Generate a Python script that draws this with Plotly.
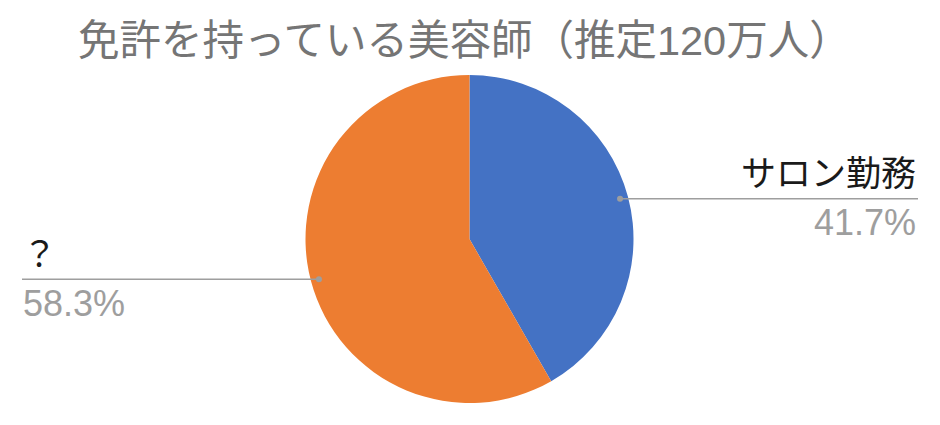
import math
import plotly.graph_objects as go

# chart data
labels = ["サロン勤務", "？"]
values = [41.7, 58.3]
pct_text = ["41.7%", "58.3%"]
colors = ["#4472C4", "#ED7D31"]
title_text = "免許を持っている美容師（推定120万人）"

W, H = 940, 425
OFF = 8  # page body margin


def px(x):
    return (x - OFF) / W


def py(y):
    return 1 - (y - OFF) / H


# pie geometry in screen pixels
cx, cy, R = 469.5, 239, 164

fig = go.Figure(go.Pie(
    labels=labels,
    values=values,
    sort=False,
    direction="clockwise",
    rotation=0,
    marker=dict(colors=colors, line=dict(width=0)),
    textinfo="none",
    hoverinfo="label+percent",
    showlegend=False,
    domain=dict(x=[px(cx - R), px(cx + R)], y=[py(cy + R), py(cy - R)]),
))

shapes = []
annotations = []
total = sum(values)
start = 0
for i, v in enumerate(values):
    mid = (start + v / 2) / total * 2 * math.pi
    start += v
    dx = math.sin(mid) * R * 0.95
    dy = -math.cos(mid) * R * 0.95
    x0, y0 = cx + dx, cy + dy
    right = dx > 0
    x1 = 918 if right else 22
    # dot on the slice
    shapes.append(dict(type="circle", xref="paper", yref="paper",
                       x0=px(x0 - 3), x1=px(x0 + 3), y0=py(y0 + 3), y1=py(y0 - 3),
                       fillcolor="#9e9e9e", line=dict(width=0)))
    # leader line
    shapes.append(dict(type="line", xref="paper", yref="paper",
                       x0=px(x0), x1=px(x1), y0=py(y0), y1=py(y0),
                       line=dict(color="#9e9e9e", width=1.5)))
    anchor = "right" if right else "left"
    annotations.append(dict(text=labels[i], x=px(x1 if right else 20), y=py(y0 - 25),
                            xref="paper", yref="paper", xanchor=anchor, yanchor="middle",
                            showarrow=False,
                            font=dict(size=35, color="#1a1a1a",
                                      family="Liberation Sans, Noto Sans CJK JP")))
    annotations.append(dict(text=pct_text[i], x=px(x1 if right else x1 - 1), y=py(y0 + 24),
                            xref="paper", yref="paper", xanchor=anchor, yanchor="middle",
                            showarrow=False,
                            font=dict(size=36, color="#9e9e9e",
                                      family="Liberation Sans, Noto Sans CJK JP")))

annotations.append(dict(text=title_text, x=px(464), y=py(41), xref="paper", yref="paper",
                        xanchor="center", yanchor="middle", showarrow=False,
                        font=dict(size=41.5, color="#757575",
                                  family="Liberation Sans, Noto Sans CJK JP")))

fig.update_layout(
    width=W,
    height=H,
    margin=dict(l=0, r=0, t=0, b=0),
    paper_bgcolor="white",
    plot_bgcolor="white",
    shapes=shapes,
    annotations=annotations,
)

fig.write_html("out.html")
